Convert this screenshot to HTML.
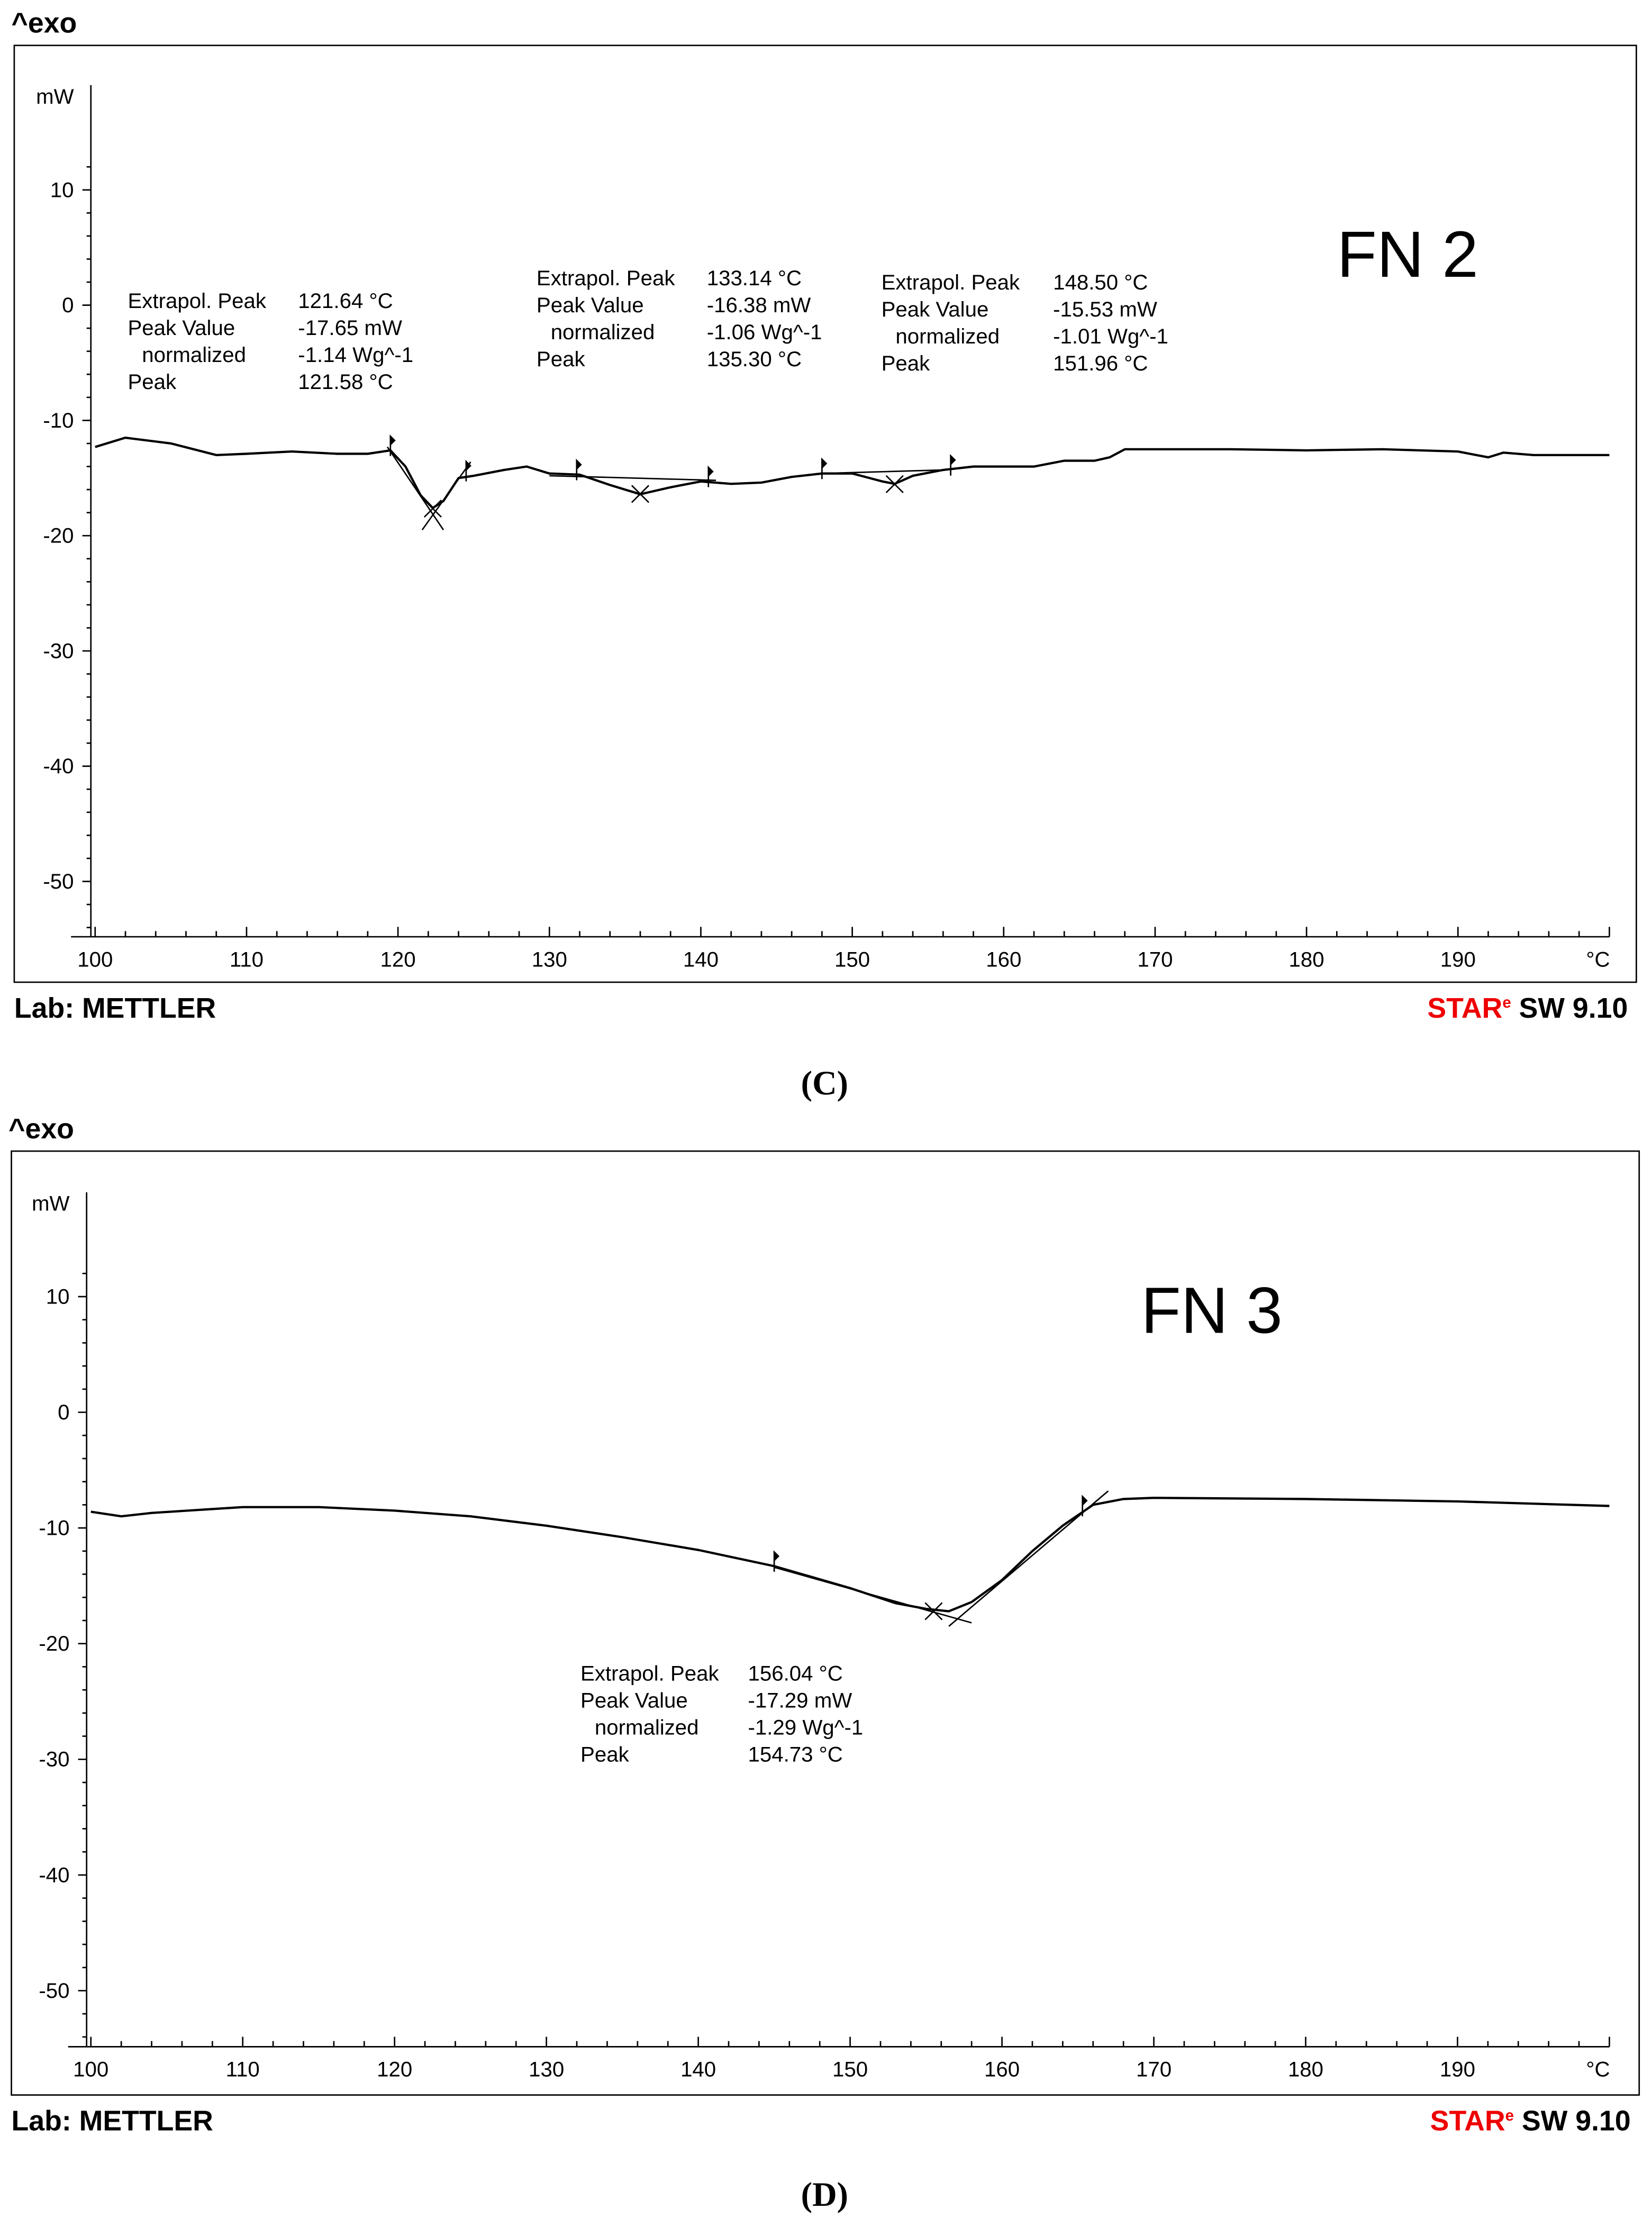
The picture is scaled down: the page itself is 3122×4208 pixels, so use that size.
<!DOCTYPE html>
<html><head><meta charset="utf-8"><style>
html,body{margin:0;padding:0;background:#fff;}
svg{display:block;}
text{font-family:"Liberation Sans","DejaVu Sans",sans-serif;fill:#000;}
.t{font-size:15px;}
.b{font-size:20px;font-weight:bold;}
</style></head><body>
<svg id="svg" width="3122" height="4208" viewBox="0 0 1164 1569" xmlns="http://www.w3.org/2000/svg">
<rect x="0" y="0" width="1164" height="1569" fill="#fff"/>
<g id="chartC"></g>
<g id="chartD"></g>
</svg>
<script>
const xTicks=[100,110,120,130,140,150,160,170,180,190];
const yTicks=[10,0,-10,-20,-30,-40,-50];
const tempsC=[100,102,105,108,110,113,116,118,119.5,120.5,121.5,122.3,123,124,125,127,128.5,130,132,134,136,138,140,142,144,146,148,150,152,152.8,154,156,158,160,162,164,166,167,168,170,175,180,185,190,192,193,195,200];
const mwC=[-12.3,-11.5,-12,-13,-12.9,-12.7,-12.9,-12.9,-12.6,-14,-16.5,-17.6,-17,-15,-14.8,-14.3,-14,-14.6,-14.7,-15.6,-16.4,-15.8,-15.3,-15.5,-15.4,-14.9,-14.6,-14.6,-15.3,-15.5,-14.8,-14.3,-14,-14,-14,-13.5,-13.5,-13.2,-12.5,-12.5,-12.5,-12.6,-12.5,-12.7,-13.2,-12.8,-13,-13];
const tempsD=[100,102,104,110,115,120,125,130,135,140,145,150,153,155,156.5,158,160,162,164,166,168,170,180,190,200];
const mwD=[-8.6,-9,-8.7,-8.2,-8.2,-8.5,-9,-9.8,-10.8,-11.9,-13.3,-15.2,-16.5,-17,-17.2,-16.4,-14.5,-12,-9.8,-8,-7.5,-7.4,-7.5,-7.7,-8.1];
const peaksC=[[122.3,-17.65],[136,-16.38],[152.8,-15.53]];
const peaksD=[[155.5,-17.2]];
const flagsC=[[119.5,-12.6],[124.5,-14.8],[131.8,-14.7],[140.5,-15.3],[148,-14.6],[156.5,-14.3]];
const flagsD=[[145,-13.3],[165.3,-8.5]];
const NS="http://www.w3.org/2000/svg";
function mk(p,tag,a,txt){const e=document.createElementNS(NS,tag);for(const k in a)e.setAttribute(k,a[k]);if(txt!==undefined)e.textContent=txt;p.appendChild(e);return e;}
function build(g,cfg){
  const X=t=>cfg.x0+(t-100)*cfg.xs;
  const Y=v=>cfg.y0-v*cfg.ys;
  let e=mk(g,'rect',{x:cfg.fx,y:cfg.fy,width:cfg.fw,height:cfg.fh,fill:'none',stroke:'#000','stroke-width':1});
  
  e=mk(g,'text',{x:cfg.fx-2,y:cfg.fy-9,class:'b','font-size':'19'},'^exo');
  
  const axX=cfg.x0-3;
  mk(g,'line',{x1:axX,y1:cfg.yTop,x2:axX,y2:cfg.xAxisY,stroke:'#000'});
  for(let v=12;v>=-56;v-=2){const y=Y(v);if(y<cfg.yTop||y>cfg.xAxisY)continue;const major=v%10===0;mk(g,'line',{x1:axX-(major?6:3),y1:y,x2:axX,y2:y,stroke:'#000'});}
  e=mk(g,'text',{x:axX-12,y:cfg.yTop+13,class:'t','text-anchor':'end'},'mW');
  
  yTicks.forEach(v=>{const t=mk(g,'text',{x:axX-12,y:Y(v)+5,class:'t','text-anchor':'end'},String(v));
    });
  mk(g,'line',{x1:cfg.fx+40,y1:cfg.xAxisY,x2:X(200),y2:cfg.xAxisY,stroke:'#000'});
  for(let t=100;t<=200;t+=2){const x=X(t);const major=t%10===0;mk(g,'line',{x1:x,y1:cfg.xAxisY,x2:x,y2:cfg.xAxisY-(major?7:4),stroke:'#000'});}
  xTicks.forEach(t=>{const l=mk(g,'text',{x:X(t),y:cfg.xAxisY+21,class:'t','text-anchor':'middle'},String(t));
    });
  e=mk(g,'text',{x:X(200)-8,y:cfg.xAxisY+21,class:'t','text-anchor':'middle'},'°C');
  
  const pts=cfg.t.map((t,i)=>X(t).toFixed(1)+','+Y(cfg.v[i]).toFixed(1)).join(' ');
  e=mk(g,'polyline',{points:pts,fill:'none',stroke:'#000','stroke-width':1.6});
  
  cfg.peaks.forEach(p=>{const x=X(p[0]),y=Y(p[1]);
    const m=mk(g,'path',{d:`M${x-6},${y-6}L${x+6},${y+6}M${x-6},${y+6}L${x+6},${y-6}`,stroke:'#000','stroke-width':1,fill:'none'});
    });
  cfg.flags.forEach(p=>{const x=X(p[0]),y=Y(p[1]);
    const f=mk(g,'path',{d:`M${x},${y+4}L${x},${y-10}M${x},${y-10}L${x+3},${y-7}L${x},${y-4}Z`,stroke:'#000','stroke-width':1,fill:'#000'});
    });
  e=mk(g,'text',{x:cfg.fx,y:cfg.fy+cfg.fh+25,class:'b'},'Lab: METTLER');
  
  e=mk(g,'text',{x:cfg.fx+cfg.fw-6,y:cfg.fy+cfg.fh+25,class:'b','text-anchor':'end'});
  e.innerHTML='<tspan style="fill:#e00">STAR</tspan><tspan style="fill:#e00;font-size:11px" dy="-7">e</tspan><tspan dy="7"> SW 9.10</tspan>';
  
  e=mk(g,'text',{x:581,y:cfg.capY,'text-anchor':'middle','font-size':'24','font-weight':'bold',style:'font-family:"Liberation Serif",serif'},cfg.cap);
  
  e=mk(g,'text',{x:cfg.fnX,y:cfg.fnY,'font-size':'46'},cfg.fn);
  
  cfg.blocks.forEach(b=>{const labels=['Extrapol. Peak','Peak Value','  normalized','Peak'];
    labels.forEach((l,i)=>{mk(g,'text',{x:b[0]+(i==2?10:0),y:b[1]+i*19,class:'t'},l.trim());
      const v=mk(g,'text',{x:b[2],y:b[1]+i*19,class:'t'},b[3][i]);
      });});
  cfg.bl.forEach(b=>{mk(g,'line',{x1:X(b[0]),y1:Y(b[1]),x2:X(b[2]),y2:Y(b[3]),stroke:'#000','stroke-width':1});});
}
build(document.getElementById('chartC'),{fx:10,fy:32,fw:1143,fh:660,x0:67,xs:10.67,y0:215,ys:8.12,yTop:60,xAxisY:660,
 t:tempsC,v:mwC,peaks:peaksC,flags:flagsC,cap:'(C)',capY:771,fn:'FN 2',fnX:942,fnY:195,
 blocks:[[90,217,210,['121.64 °C','-17.65 mW','-1.14 Wg^-1','121.58 °C']],[378,201,498,['133.14 °C','-16.38 mW','-1.06 Wg^-1','135.30 °C']],[621,204,742,['148.50 °C','-15.53 mW','-1.01 Wg^-1','151.96 °C']]],
 bl:[[119.3,-12.3,123,-19.5],[124.8,-13.6,121.6,-19.5],[130,-14.8,141,-15.2],[148,-14.6,156,-14.3]]});
build(document.getElementById('chartD'),{fx:8,fy:811,fw:1147,fh:665,x0:64,xs:10.7,y0:995,ys:8.15,yTop:840,xAxisY:1442,
 t:tempsD,v:mwD,peaks:peaksD,flags:flagsD,cap:'(D)',capY:1554,fn:'FN 3',fnX:804,fnY:939,
 blocks:[[409,1184,527,['156.04 °C','-17.29 mW','-1.29 Wg^-1','154.73 °C']]],
 bl:[[145,-13.4,158,-18.2],[156.5,-18.5,167,-6.8]]});
</script>
</body></html>
